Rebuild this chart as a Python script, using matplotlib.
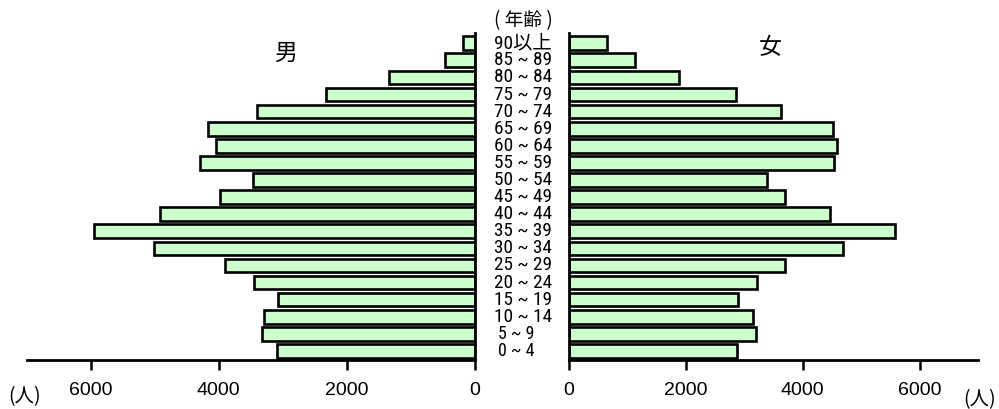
import matplotlib
matplotlib.use('Agg')
import matplotlib.pyplot as plt
from matplotlib import font_manager
from matplotlib.transforms import blended_transform_factory

age_labels = ['0 ~ 4', '5 ~ 9', '10 ~ 14', '15 ~ 19', '20 ~ 24', '25 ~ 29',
              '30 ~ 34', '35 ~ 39', '40 ~ 44', '45 ~ 49', '50 ~ 54', '55 ~ 59',
              '60 ~ 64', '65 ~ 69', '70 ~ 74', '75 ~ 79', '80 ~ 84', '85 ~ 89',
              '90以上']
male = [3096, 3330, 3299, 3075, 3451, 3900, 5020, 5950, 4917, 3983,
        3462, 4291, 4050, 4171, 3399, 2329, 1343, 466, 180]
female = [2883, 3208, 3162, 2894, 3219, 3704, 4685, 5575, 4468, 3704,
          3390, 4531, 4588, 4520, 3630, 2860, 1890, 1143, 653]
ticks = [0, 2000, 4000, 6000]

names = sorted({f.name for f in font_manager.fontManager.ttflist})
narrow = 'Liberation Sans'
for cand in ('Liberation Sans Narrow', 'Roboto Condensed', 'Open Sans Condensed',
             'DejaVu Sans Condensed'):
    if cand in names:
        narrow = cand
        break
base = ['Liberation Sans', 'Noto Sans CJK JP', 'DejaVu Sans']
label_fam = [narrow, 'Noto Sans CJK JP', 'DejaVu Sans']
cjk = ['Noto Sans CJK JP', 'DejaVu Sans']
plt.rcParams['font.family'] = base

W, H = 999, 409
fig = plt.figure(figsize=(W / 100, H / 100), dpi=100)

y_bot = 1 - 360 / H
y_top = 1 - 33.3 / H
axL = fig.add_axes([27 / W, y_bot, (474.5 - 27) / W, y_top - y_bot])
axR = fig.add_axes([568.5 / W, y_bot, (978 - 568.5) / W, y_top - y_bot])

pos = list(range(len(age_labels)))
bar_kw = dict(height=0.8, color='#ccffcc', edgecolor='black', linewidth=1.9)
axL.barh(pos, male, **bar_kw)
axR.barh(pos, female, **bar_kw)

for ax in (axL, axR):
    ax.set_ylim(-0.53, 18.58)
    ax.set_xlim(0, 7000)
    ax.set_xticks(ticks)
    ax.set_xticklabels([str(t) for t in ticks])
    ax.set_yticks([])
    ax.spines['top'].set_visible(False)
    ax.tick_params(axis='x', direction='out', length=7, width=1.8,
                   labelsize=14, pad=9)
    for s in ('bottom', 'left', 'right'):
        ax.spines[s].set_linewidth(2.0)

axL.invert_xaxis()
axL.spines['left'].set_visible(False)
axR.spines['right'].set_visible(False)

tr = blended_transform_factory(fig.transFigure, axL.transData)
for i, lab in enumerate(age_labels):
    x = 523 / W
    fs = 14 if narrow == 'Liberation Sans' else 13.9
    if i < 2:
        x = 516 / W
        fs -= 1
    axL.text(x, i, lab, transform=tr, ha='center', va='center',
             fontsize=fs, family=label_fam, clip_on=False)

fig.text(523 / W, 1 - 21 / H, '( 年齢 )', ha='center', va='center',
         fontsize=13.5, family=cjk)
fig.text(285 / W, 1 - 53 / H, '男', ha='center', va='center',
         fontsize=16.5, family=cjk)
fig.text(770 / W, 1 - 48 / H, '女', ha='center', va='center',
         fontsize=16.5, family=cjk)
fig.text(25 / W, 1 - 397 / H, '(人)', ha='center', va='center',
         fontsize=14, family=cjk)
fig.text(980 / W, 1 - 400 / H, '(人)', ha='center', va='center',
         fontsize=14, family=cjk)

fig.savefig('out.png', dpi=100)
